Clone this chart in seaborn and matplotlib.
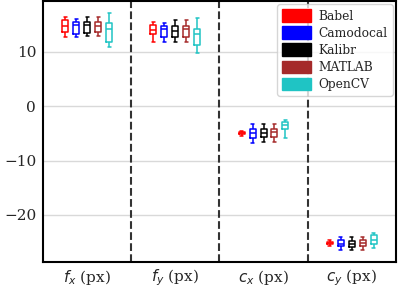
import pandas as pd
import seaborn as sns
import matplotlib.pyplot as plt
from matplotlib.patches import Patch

# Parameters on the x axis
params = ['fx', 'fy', 'cx', 'cy']
param_labels = [r'$f_x$ (px)', r'$f_y$ (px)', r'$c_x$ (px)', r'$c_y$ (px)']
methods = ['Babel', 'Camodocal', 'Kalibr', 'MATLAB', 'OpenCV']
colors = ['#ff0000', '#0000ff', '#000000', '#a52a2a', '#1fc4c4']

# five-number summaries: low whisker, q1, median, q3, high whisker
babel = [[12.7, 13.6, 14.7, 15.8, 16.4],
         [11.8, 13.3, 14.1, 15.0, 15.6],
         [-5.5, -5.2, -5.0, -4.8, -4.5],
         [-25.7, -25.4, -25.2, -25.0, -24.7]]
camodocal = [[12.7, 13.3, 14.9, 15.5, 16.1],
             [11.8, 12.7, 14.2, 14.7, 15.3],
             [-6.7, -5.8, -5.0, -4.2, -3.3],
             [-26.4, -25.8, -25.3, -24.7, -24.0]]
kalibr = [[12.9, 13.4, 14.9, 15.5, 16.5],
          [11.9, 12.7, 13.9, 14.7, 15.8],
          [-6.6, -5.6, -5.0, -4.1, -3.2],
          [-26.4, -25.9, -25.3, -24.9, -24.0]]
matlab = [[12.9, 13.6, 14.7, 15.6, 16.4],
          [11.9, 12.7, 14.2, 14.7, 15.8],
          [-6.6, -5.6, -4.8, -4.1, -3.2],
          [-26.4, -25.8, -25.2, -24.7, -24.0]]
opencv = [[10.9, 11.9, 14.2, 15.3, 17.2],
          [9.8, 11.2, 13.3, 14.2, 16.2],
          [-5.8, -4.1, -3.5, -2.9, -2.5],
          [-26.1, -25.3, -24.6, -23.8, -23.3]]

rows = []
for name, vals in zip(methods, [babel, camodocal, kalibr, matlab, opencv]):
    for p, five in zip(params, vals):
        for v in five:
            rows.append({'param': p, 'method': name, 'value': v})
df = pd.DataFrame(rows)

sns.set_style('whitegrid')
plt.rcParams['font.family'] = 'serif'

fig = plt.figure(figsize=(3.99, 2.88), dpi=100)
ax = fig.add_axes([0.108, 0.09, 0.884, 0.905])

sns.boxplot(data=df, x='param', y='value', hue='method', order=params,
            hue_order=methods, palette=colors, fill=False, width=0.62,
            gap=0.45, linewidth=1.1, legend=False, ax=ax)

for xv in [0.5, 1.5, 2.5]:
    ax.axvline(xv, color='#333333', linestyle='--', linewidth=1.5)

ax.set_ylim(-28.7, 19.3)
ax.set_yticks([10, 0, -10, -20])
ax.set_xlim(-0.5, 3.5)
ax.set_xticks(range(4))
ax.set_xticklabels(param_labels, fontsize=11)
ax.tick_params(axis='y', labelsize=11, length=3, pad=2)
ax.tick_params(axis='x', length=3, pad=1)
ax.set_xlabel('')
ax.set_ylabel('')
ax.grid(axis='x', visible=False)
ax.grid(axis='y', color='#d9d9d9', linewidth=1.0)
for s in ax.spines.values():
    s.set_color('black')
    s.set_linewidth(1.5)

handles = [Patch(facecolor=c, edgecolor=c) for c in colors]
ax.legend(handles, methods, loc='upper right', fontsize=8.8,
          handlelength=2.4, handleheight=1.2, borderaxespad=0.25,
          labelspacing=0.3, handletextpad=0.6, framealpha=0.8)

fig.savefig('out.png', dpi=100)
